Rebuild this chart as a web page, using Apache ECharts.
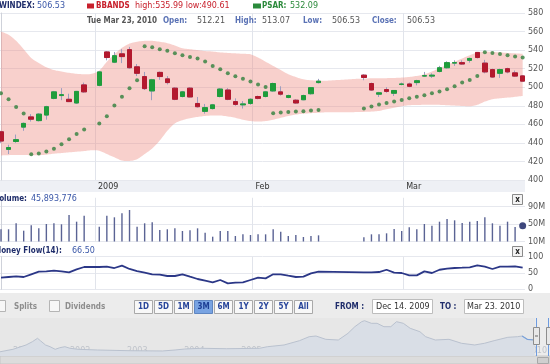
<!DOCTYPE html>
<html><head><meta charset="utf-8">
<script src="https://cdn.jsdelivr.net/npm/echarts@6/dist/echarts.min.js"></script>
<style>html,body{margin:0;padding:0;background:#fff}#c{width:550px;height:364px}</style>
</head><body><div id="c"></div>
<script>
// ---- data (one entry per trading slot; null = no bar drawn) ----
const opens  = [452,433,441.5,457,468,464,470,488,491,487,483,502.5,null,502,538,527,536,540.5,522,511.5,496,516,509,499,490,499,482.5,474,477,490,497,484.5,481,482.5,490,490,496,495,489,486,486.5,493,505,null,null,null,null,null,513,504,492.5,497.5,493.5,503,503.5,505,512,512,517,521,526,526.5,529,537.5,526,519,515,520,515.5,512.21];
const closes = [442,435,443.5,461,465.5,471,479,495,492,484.5,495.5,495,null,516.5,532,534,533,521,515,498.5,508,511.5,505,487,495,489.5,479,478,481,498,487,481.5,482,487,488,495,504,492.5,491,483,491,499.5,506.5,null,null,null,null,null,510.5,497,494,495.5,496.5,503.5,501,507,512.5,513,521,526.5,526.5,525,531,532,516.5,511,519,516.5,512,506.53];
const lows   = [440,428,440,453,463,463,465,487,486,484,482,494,null,501,529,526,526,520,512,497,486,508,503,486,489,489,478,471.5,476,489,486,480,477,481,487,489,495,491,488,482,486,492,504,null,null,null,null,null,507.5,496,489.5,494,490.5,502,500,502,511,510,516,520,523,524,526.5,531,515,510,510,515,511,506.53];
const highs  = [453,438,449,462,471,472,480,496,499,493,496,505,null,517,539,538,541,543.5,525,516.5,509,517,512,500,496,500,489.5,482,482,499,499,488,485,488,491,496,505,501,492,487,492,500,509,null,null,null,null,null,514,505,495,500,497,505,505,508,516.5,515,523,528,529,529,532,538,529.5,520,520,521,518,513.07];
const bbUpper = [560,556.5,550,541,531.5,526,521.5,518.5,517,515.5,514.5,514,514.5,518,527.5,535.5,542.5,547,549,550,550,549,547.5,545,542,541,540,539,538.5,537.5,537,536.5,536,535.5,532,527.5,523,518.5,514,511,508.5,507.5,507,507,507.5,508,508.5,509,509.3,509.7,509.7,509.8,510,510.4,511.1,512.2,514,517,520.5,524,527.5,531,534.5,537.5,538.5,538,537.5,537,536.5,535.99];
const bbLower = [426.5,426.8,427,427,426.7,426.7,427.3,428.4,429,429.8,430.5,431.2,432,431.5,428,424.4,421,420.5,422.5,428,434,442.5,453,461,464.5,466.5,468,469,469.5,469.5,468.5,467,465,463.5,463,463.5,465,467,469,470.5,471.5,472,472.5,473,473,473,473,473.2,473.4,473.7,474.5,476.3,478,479.5,480.6,480.9,481,481,481,480.6,480.2,479.8,479.5,481,484.5,487,488.1,488.8,489.6,490.61];
const psar = [493.5,487,478.8,471.6,427.7,428.5,430.6,433.8,438.5,443.9,449.7,454.3,null,460.8,468.7,480.2,489.6,498.9,507.5,544.2,543.1,541,539.2,536.6,534.5,532.7,530.9,527.6,523,519.4,515.1,511.8,509,506.1,502.8,500.3,471.9,472.7,473.4,473.7,474.1,474.8,475.5,null,null,null,null,null,477,479.1,481.3,483.1,484.5,486.3,488.1,489.6,491.3,493.5,495.3,497.8,501,505,507.9,512.2,537.7,537,535.9,534.5,533,532.09];
const volumeM = [37.9,37.9,51.6,34.7,47,40.1,50,51.6,49.3,70.6,55.3,69,null,43.9,69,65.3,74.4,82,43.9,51.6,53.9,36.3,37.9,40.1,34,35.5,40.1,30.1,21,34,34,22.6,26.4,24.9,26.4,26.4,37.9,32.4,22.6,24.9,20.3,22.6,24.1,null,null,null,null,null,19.6,26.4,26.4,28.7,38.6,34,42.4,37.9,50,46.2,55.3,61.4,58.4,52.3,55.3,56.9,65.3,51.6,46.2,55.3,43.1,45.893776];
const moneyFlow = [35.6,37.7,39.8,37.7,46,54,55,57,55,52,61.3,68.4,null,68.4,69.4,65.3,72.4,62.3,56,51,46,45,40.8,40.8,46,38.7,31.6,26.5,21.4,28.5,18.4,20.4,21.4,28.5,35.6,33.5,46,46,41.8,37.7,38.7,49,54,null,null,null,null,null,52,52,53,60,51,50,42.8,42.8,55,50,60,63.3,65.3,66.3,67.4,73.4,69.4,62.3,69.4,69.4,70.4,66.5];
const xTickPos = [12.43, 33.26, 53.2];
const xTickLabels = ['2009', 'Feb', 'Mar'];
const volTicks = [10, 50, 90];
const mfTicks = [0, 50, 100];
const navYears  = [2000.77,2001.0,2001.23,2001.34,2001.43,2001.48,2001.57,2001.65,2001.74,2001.82,2001.91,2002.0,2002.14,2002.48,2003.04,2003.62,2003.84,2004.01,2004.3,2004.74,2005.32,2005.46,2005.75,2006.02,2006.19,2006.31,2006.48,2006.7,2006.87,2006.99,2007.11,2007.16,2007.28,2007.38,2007.5,2007.62,2007.72,2007.84,2007.96,2008.13,2008.23,2008.4,2008.64,2008.86,2009.09,2009.26,2009.43,2009.67,2009.84,2009.92,2010.01,2010.14];
const navValues = [11,17.6,29,37.6,46.6,40.3,29,24.5,17.6,21.8,24.5,20.3,17.6,15.8,13.9,13.2,15.8,18.4,20.3,19.2,20.3,24.5,29,40.3,50.8,52.6,43.9,42.1,59.7,77.1,90.3,92.9,86,86,77.1,77.1,90.3,86,72.9,63.9,50.8,42.1,43.9,33.4,29,33.4,40.3,49.2,50.8,52.6,43.9,42.1];
const navTickYears  = [2001,2002,2003,2004,2005,2006,2007,2008,2009,2010];
const navTickLabels = ['2000','2002','2003','2004','2005','2006','2007','2008','2009','2010'];
const navSelStart = 2009.95;
const rangeButtons = ['1D','5D','1M','3M','6M','1Y','2Y','5Y','All'];
const activeRange = '3M';
const symbolName = 'WINDEX';
const lastDateText = 'Tue Mar 23, 2010';
const fromText = 'Dec 14. 2009';
const toText = 'Mar 23. 2010';

// ---- build ----
const N = closes.length, L = N - 1;
const candleData = [], bodyData = [];
for (let i = 0; i < N; i++) {
  if (opens[i] == null) continue;
  candleData.push([i, opens[i], closes[i], lows[i], highs[i]]);
  bodyData.push([i, opens[i], closes[i], Math.min(opens[i], closes[i]), Math.max(opens[i], closes[i])]);
}
const bandData = bbUpper.map((u, i) => [i, bbLower[i], u]);
const psarData = psar.map((v, i) => [i, v]).filter(d => d[1] != null);
const volData = volumeM.map((v, i) => ({value: [i, v], itemStyle: i === L ? {opacity: 0} : undefined})).filter(d => d.value[1] != null);
const mfData = moneyFlow.map((v, i) => [i, v]);
const navData = navYears.map((y, i) => [y, navValues[i]]);
const navSel = navData.filter(d => d[0] >= navSelStart - 0.1);

function spline(p) {
  const out = [];
  for (let i = 0; i < p.length - 1; i++) {
    const p0 = p[Math.max(i - 1, 0)], p1 = p[i], p2 = p[i + 1], p3 = p[Math.min(i + 2, p.length - 1)];
    for (let s = 0; s < 6; s++) {
      const t = s / 6, t2 = t * t, t3 = t2 * t;
      const f = k => 0.5 * (2 * p1[k] + (-p0[k] + p2[k]) * t + (2 * p0[k] - 5 * p1[k] + 4 * p2[k] - p3[k]) * t2 + (-p0[k] + 3 * p1[k] - 3 * p2[k] + p3[k]) * t3);
      out.push([f(0), f(1)]);
    }
  }
  out.push(p[p.length - 1]);
  return out;
}
function renderBand(params, api) {
  if (params.dataIndex !== 0) return null;
  const up = bandData.map(d => api.coord([d[0], d[2]]));
  const lo = bandData.map(d => api.coord([d[0], d[1]]));
  const cs = params.coordSys;
  return {type: 'polygon', shape: {points: spline(up).concat(spline(lo).reverse())},
    style: {fill: 'rgba(238,138,128,0.4)'},
    clipPath: {type: 'rect', shape: {x: cs.x, y: cs.y, width: cs.width, height: cs.height}}};
}

const F = '"DejaVu Sans", Verdana, sans-serif';
const FB = '"DejaVu Sans Condensed", "DejaVu Sans", sans-serif';
const navy = '#1f2d6b', blue = '#3a57a8', red = '#c8202c', green = '#2b8a3b';
function txt(x, y, s, color, bold, size, align) {
  return {type: 'text', x: x, y: y, z: 100, silent: true,
    style: {text: s, fill: color, font: bold ? ('bold ' + (size || 8) + 'px ' + FB) : ((size || 8) + 'px ' + F), align: align || 'left', verticalAlign: 'middle'}};
}
function box(x, y, w, h, fill, stroke, z) {
  return {type: 'rect', z: z == null ? 50 : z, silent: true, shape: {x: x, y: y, width: w, height: h},
    style: {fill: fill, stroke: stroke || null, lineWidth: stroke ? 1 : 0}};
}
const fmt2 = v => v.toFixed(2);
const g = [];
g.push(box(0, 180.5, 525, 11.5, '#eef0f5', null, -10));
g.push(box(0, 293, 550, 71, '#ececec', null, -10));
g.push(box(0, 356, 550, 8, '#dcdcdc', '#c6c6c6', -9));
// header row 1
g.push(txt(-1, 6, symbolName + ':', navy, true));
g.push(txt(37, 6, fmt2(closes[L]), blue, false));
g.push(box(87, 3.5, 7, 5, red, null, 100));
g.push(txt(96, 6, 'BBANDS', red, true));
g.push(txt(135, 6, 'high:' + fmt2(bbUpper[L]) + ' low:' + fmt2(bbLower[L]), red, false));
g.push(box(253, 3.5, 8, 5, green, null, 100));
g.push(txt(262, 6, 'PSAR:', green, true));
g.push(txt(290, 6, fmt2(psar[L]), green, false));
// header row 2
g.push(txt(87, 20.5, lastDateText, '#555', true));
const ohlc = [['Open:', opens[L], 163, 197], ['High:', highs[L], 235, 262], ['Low:', lows[L], 303, 332], ['Close:', closes[L], 372, 407]];
ohlc.forEach(o => { g.push(txt(o[2], 20.5, o[0], '#5a72b5', true)); g.push(txt(o[3], 20.5, fmt2(o[1]), '#555', false)); });
// panel titles
g.push(txt(-6, 199, 'Volume:', navy, true));
g.push(txt(31, 199, Math.round(volumeM[L] * 1e6).toLocaleString('en-US'), blue, false));
g.push(txt(-6, 250.5, 'Money Flow(14):', navy, true));
g.push(txt(72, 250.5, fmt2(moneyFlow[L]), blue, false));
[194, 246].forEach(y => { g.push(box(512.5, y + 0.5, 10, 10, '#f3f3f3', '#8a8a8a', 100)); g.push(txt(517.5, y + 5.5, 'x', '#222', true, 8, 'center')); });
// controls row
g.push(box(-4.5, 300.5, 10, 11, '#f7f7f7', '#b5b5b5', 60));
g.push(txt(14, 306.5, 'Splits', '#8d8d8d', true));
g.push(box(49.5, 300.5, 10, 11, '#f7f7f7', '#b5b5b5', 60));
g.push(txt(65, 306.5, 'Dividends', '#8d8d8d', true));
rangeButtons.forEach((b, k) => {
  const x = 134.5 + k * 20, act = b === activeRange;
  g.push(box(x, 300.5, 18, 13, act ? '#78a3e2' : '#f8f8f8', act ? '#5e85c0' : '#a9a9a9', 60));
  g.push(txt(x + 9, 307, b, act ? '#1d3f95' : '#28459a', true, 8, 'center'));
});
g.push(txt(335, 307, 'FROM :', navy, true));
g.push(box(372.5, 299.5, 60, 14, '#fff', '#bdbdbd', 60));
g.push(txt(376, 306.5, fromText, '#333', false));
g.push(txt(440, 307, 'TO :', navy, true));
g.push(box(464.5, 299.5, 59, 14, '#fff', '#bdbdbd', 60));
g.push(txt(467, 306.5, toText, '#333', false));
// navigator handles
g.push({type: 'line', z: 90, silent: true, shape: {x1: 536.5, y1: 318, x2: 536.5, y2: 356}, style: {stroke: '#6d9be0', lineWidth: 1}});
g.push({type: 'line', z: 90, silent: true, shape: {x1: 548.5, y1: 318, x2: 548.5, y2: 356}, style: {stroke: '#6d9be0', lineWidth: 1}});
g.push(box(533.5, 327.5, 6, 17, '#e8e8e8', '#8d8d8d', 95));
g.push({type: 'line', z: 96, silent: true, shape: {x1: 535, y1: 336, x2: 538, y2: 336}, style: {stroke: '#666', lineWidth: 1}});
g.push(box(546.5, 327.5, 6, 17, '#e8e8e8', '#8d8d8d', 95));
g.push(box(537.5, 357.5, 11, 6, '#cfcfcf', '#a8a8a8', 95));

const xCommon = {type: 'value', min: -0.132, max: 69.31, axisLine: {show: false},
  axisTick: {show: false, customValues: xTickPos}, splitLine: {show: true, lineStyle: {color: '#e1e4eb', width: 1}}};
const yLabel = {fontSize: 8, color: '#555', margin: 3, fontFamily: F};
const ySplit = {show: true, lineStyle: {color: '#e6e8ee', width: 1}};
const yLine = {show: true, lineStyle: {color: '#cfd2da'}};

const option = {
  animation: false,
  textStyle: {fontFamily: F},
  grid: [
    {left: 0, top: 13, width: 525, height: 167},
    {left: 0, top: 197.75, width: 525, height: 43.75},
    {left: 0, top: 256.7, width: 525, height: 32.6},
    {left: 0, top: 318, width: 550, height: 38, show: true, backgroundColor: '#e7e7e7', borderWidth: 0}
  ],
  xAxis: [
    Object.assign({}, xCommon, {gridIndex: 0, axisLabel: {show: true, customValues: xTickPos, align: 'left', margin: 3, padding: [0, 0, 0, 3], fontSize: 8, color: '#333', fontFamily: F,
      formatter: v => { const k = xTickPos.findIndex(p => Math.abs(p - v) < 1e-6); return k >= 0 ? xTickLabels[k] : ''; }}}),
    Object.assign({}, xCommon, {gridIndex: 1, axisLabel: {show: false}}),
    Object.assign({}, xCommon, {gridIndex: 2, axisLabel: {show: false}}),
    {type: 'value', gridIndex: 3, min: 2000.773, max: 2010.143, axisLine: {show: false}, axisTick: {show: false, customValues: navTickYears}, splitLine: {show: false},
      axisLabel: {show: true, inside: true, customValues: navTickYears, align: 'left', margin: 1, fontSize: 8, color: '#bfc3ca', fontFamily: F,
        formatter: v => { const k = navTickYears.findIndex(p => Math.abs(p - v) < 1e-6); return k >= 0 ? navTickLabels[k] : ''; }}}
  ],
  yAxis: [
    {type: 'value', gridIndex: 0, position: 'right', min: 400, max: 580, interval: 20, axisLine: yLine, axisTick: {show: false}, axisLabel: yLabel, splitLine: ySplit},
    {type: 'value', gridIndex: 1, position: 'right', min: 10, max: 110, axisLine: yLine, axisTick: {show: false, customValues: volTicks},
      axisLabel: Object.assign({}, yLabel, {customValues: volTicks, formatter: v => v + 'M'}), splitLine: ySplit},
    {type: 'value', gridIndex: 2, position: 'right', min: 0, max: 100, axisLine: yLine, axisTick: {show: false, customValues: mfTicks},
      axisLabel: Object.assign({}, yLabel, {customValues: mfTicks}), splitLine: ySplit},
    {type: 'value', gridIndex: 3, min: 0, max: 100, show: false}
  ],
  series: [
    {type: 'custom', xAxisIndex: 0, yAxisIndex: 0, data: bandData, encode: {x: 0, y: [1, 2]}, renderItem: renderBand, silent: true, z: 1},
    {type: 'scatter', xAxisIndex: 0, yAxisIndex: 0, data: psarData, symbol: 'circle', symbolSize: 4, itemStyle: {color: '#2f7f3c'}, z: 3},
    {type: 'candlestick', xAxisIndex: 0, yAxisIndex: 0, data: candleData, barWidth: 5,
      itemStyle: {color: 'transparent', color0: 'transparent', borderColor: '#9c9ec0', borderColor0: '#9c9ec0', borderWidth: 1}, z: 4},
    {type: 'candlestick', xAxisIndex: 0, yAxisIndex: 0, data: bodyData, barWidth: 5,
      itemStyle: {color: '#1f9d3b', color0: '#b3192e', borderColor: '#1f9d3b', borderColor0: '#b3192e', borderWidth: 1}, z: 5},
    {type: 'bar', xAxisIndex: 1, yAxisIndex: 1, data: volData, barWidth: 1.4, itemStyle: {color: '#5a6394'}},
    {type: 'scatter', xAxisIndex: 1, yAxisIndex: 1, data: [[L, volumeM[L]]], symbolSize: 7, itemStyle: {color: '#0f1a5c'}, z: 6},
    {type: 'line', xAxisIndex: 2, yAxisIndex: 2, data: mfData, connectNulls: true, symbol: 'none', lineStyle: {color: '#2b3787', width: 1.8}},
    {type: 'line', xAxisIndex: 3, yAxisIndex: 3, data: navData, symbol: 'none', lineStyle: {color: '#b9c1ce', width: 1}, areaStyle: {color: '#d9dee6', opacity: 1}},
    {type: 'line', xAxisIndex: 3, yAxisIndex: 3, data: navSel, symbol: 'none', lineStyle: {color: '#7aa2da', width: 1.2}, z: 3}
  ],
  graphic: g
};
const chart = echarts.init(document.getElementById('c'), null, {renderer: 'canvas'});
chart.setOption(option);
</script></body></html>
